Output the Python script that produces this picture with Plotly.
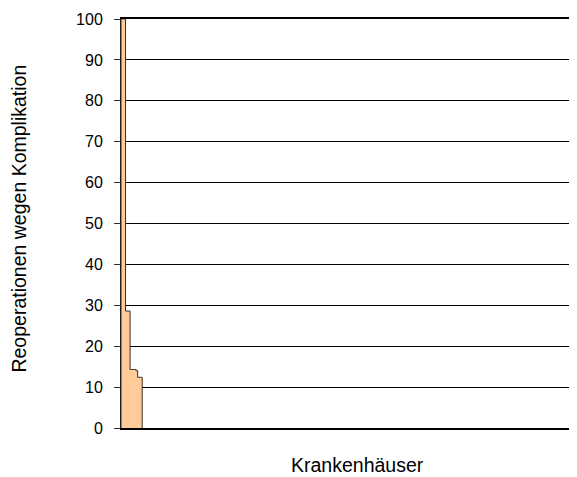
import plotly.graph_objects as go

# Data
n_hospitals = 300
nonzero_rates = [100, 100, 100, 28.6, 28.6, 28.6, 14.3, 14.3, 14.3, 14.3, 14.0, 12.4, 12.4, 12.4]
rates = nonzero_rates + [0] * (n_hospitals - len(nonzero_rates))
hospitals = list(range(n_hospitals))
y_ticks = list(range(0, 101, 10))

FONT = "Liberation Sans, Arial, sans-serif"
fill_color = "#FFCC99"
edge_color = "#3a2a1a"

fig = go.Figure()
fig.add_trace(go.Bar(x=hospitals, y=rates, marker=dict(color=fill_color, line=dict(width=0)),
                     width=1.0, showlegend=False, hoverinfo="skip"))

# outline of bars (step line derived from data)
k = len(nonzero_rates)
ox = [hospitals[0] - 0.5] + [hospitals[i] - 0.5 for i in range(k)] + [hospitals[k - 1] + 0.5]
oy = [0] + [rates[i] for i in range(k)] + [0]
fig.add_trace(go.Scatter(x=ox, y=oy, mode="lines", line=dict(shape="hv", color=edge_color, width=1),
                         showlegend=False, hoverinfo="skip"))

# page has an 8px body margin; figure is sized so it still ends at the window edge
fig.update_layout(
    width=569, height=469,
    margin=dict(l=113, r=2, t=11, b=49),
    paper_bgcolor="white", plot_bgcolor="white",
    bargap=0,
    font=dict(family=FONT, size=15, color="black"),
    xaxis=dict(range=[-0.5, n_hospitals - 0.5], showticklabels=False, ticks="",
               showgrid=False, zeroline=False, showline=True, linecolor="black",
               linewidth=2, mirror=True),
    yaxis=dict(range=[0, 100], tickvals=y_ticks, ticks="outside", ticklen=6,
               tickcolor="#333333", ticklabelstandoff=8,
               showgrid=True, gridcolor="black", gridwidth=1, zeroline=False,
               showline=True, linecolor="#222222", linewidth=1,
               tickfont=dict(size=16)),
    shapes=[dict(type="line", xref="paper", yref="paper", x0=1, x1=1, y0=0, y1=1,
                 line=dict(color="#888888", width=1))],
    annotations=[
        dict(text="Reoperationen wegen Komplikation", xref="paper", yref="paper",
             x=-0.2247, y=0.512, xanchor="center", yanchor="middle", textangle=-90,
             showarrow=False, font=dict(size=19.5)),
        dict(text="Krankenhäuser", xref="paper", yref="paper",
             x=0.522, y=-0.090, xanchor="center", yanchor="middle",
             showarrow=False, font=dict(size=19.5)),
    ],
)

fig.write_html("out.html")
